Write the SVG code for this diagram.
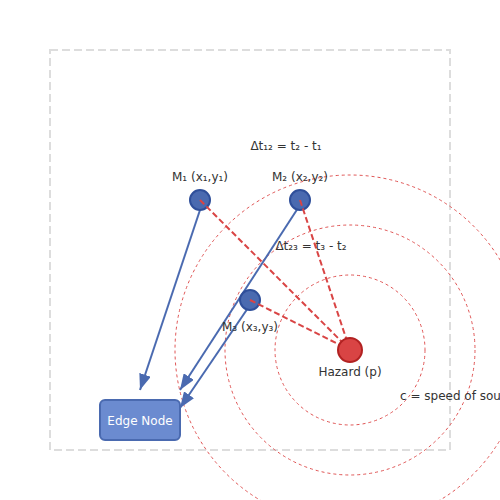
<svg xmlns="http://www.w3.org/2000/svg" width="500" height="500" viewBox="0 0 500 500">
<defs>
<marker id="arr" markerWidth="16" markerHeight="12" refX="16" refY="6" orient="auto" markerUnits="userSpaceOnUse">
<path d="M0,0 L16,6 L0,12 Z" fill="#4a6ab0"/>
</marker>
</defs>
<style>
text{font-family:"DejaVu Sans",sans-serif;font-size:12px;fill:#333;text-anchor:middle}
.ring{fill:none;stroke:#e05555;stroke-width:1;stroke-dasharray:3,3}
.sig{stroke:#d94444;stroke-width:2;stroke-dasharray:6,3;fill:none}
.link{stroke:#4a6ab0;stroke-width:2;fill:none}
.mic{fill:#4a6ab0;stroke:#2f4f9a;stroke-width:2}
</style>
<rect x="50" y="50" width="400" height="400" fill="none" stroke="#ddd" stroke-width="2" stroke-dasharray="8,4"/>
<g id="wavefronts">
<circle class="ring" cx="350" cy="350" r="75"/>
<circle class="ring" cx="350" cy="350" r="125"/>
<circle class="ring" cx="350" cy="350" r="175"/>
</g>
<g id="connectors">
<line class="link" x1="200" y1="210" x2="140" y2="390" marker-end="url(#arr)"/>
<line class="link" x1="300" y1="205" x2="180" y2="390" marker-end="url(#arr)"/>
<line class="link" x1="250" y1="305" x2="180" y2="408" marker-end="url(#arr)"/>
</g>
<g id="m1"><circle class="mic" cx="200" cy="200" r="10"/><text x="200" y="181">M₁ (x₁,y₁)</text></g>
<g id="m2"><circle class="mic" cx="300" cy="200" r="10"/><text x="300" y="181">M₂ (x₂,y₂)</text></g>
<g id="m3"><circle class="mic" cx="250" cy="300" r="10"/><text x="250" y="331">M₃ (x₃,y₃)</text></g>
<g id="signals">
<line class="sig" x1="200" y1="200" x2="350" y2="350"/>
<line class="sig" x1="300" y1="200" x2="350" y2="350"/>
<line class="sig" x1="250" y1="300" x2="350" y2="350"/>
</g>
<g id="hazard"><circle cx="350" cy="350" r="12" fill="#d94444" stroke="#b22222" stroke-width="2"/><text x="350" y="376">Hazard (p)</text></g>
<g id="edge"><rect x="100" y="400" width="80" height="40" rx="5" fill="#6b8bd0" stroke="#4a6ab0" stroke-width="2"/><text x="140" y="425" style="fill:#fff">Edge Node</text></g>
<text x="286" y="150">Δt₁₂ = t₂ - t₁</text>
<text x="311" y="250">Δt₂₃ = t₃ - t₂</text>
<text x="400" y="400" style="text-anchor:start">c = speed of sound</text>
</svg>
